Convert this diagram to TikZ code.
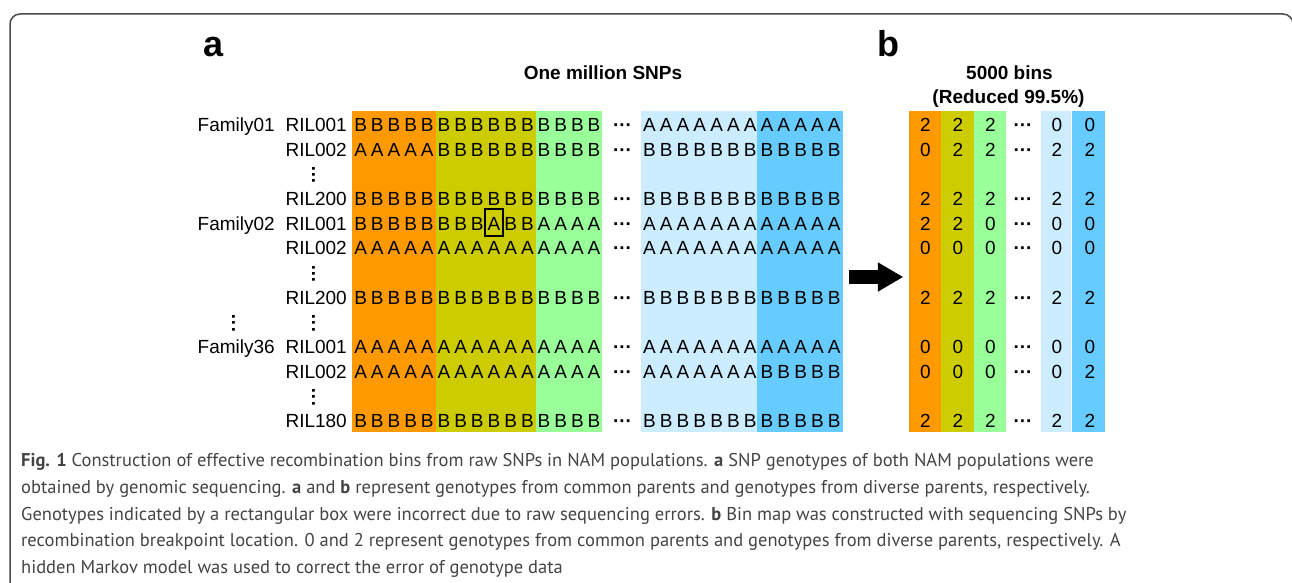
\documentclass[tikz,border=0pt]{standalone}
\usepackage{fontspec}
\usepackage{xcolor}
\setmainfont{Liberation Sans}
\newfontfamily\capfont{PT Sans}
\usepackage{tikz}
\usetikzlibrary{positioning,arrows.meta}

\definecolor{binorange}{HTML}{FF9900}
\definecolor{binolive}{HTML}{CCCC00}
\definecolor{bingreen}{HTML}{99FF99}
\definecolor{binlight}{HTML}{CCECFF}
\definecolor{binblue}{HTML}{66CCFF}
\definecolor{capgray}{HTML}{444444}
\definecolor{framegray}{HTML}{4A4A4A}

\begin{document}
\begin{tikzpicture}[x=1pt,y=-1pt]

\tikzset{snp/.style={anchor=base, inner sep=0pt, font=\fontsize{19}{21}\selectfont},
rowlabel/.style={anchor=base east, inner sep=0pt, font=\fontsize{19}{21}\selectfont},
vdot/.style={rotate=90, inner sep=0pt, font=\fontsize{19}{21}\bfseries\selectfont},
bincol/.style={fill=#1, draw=none, inner sep=0pt, minimum height=321pt},
panel/.style={anchor=base, inner sep=0pt, font=\fontsize{36}{40}\bfseries\selectfont},
headline/.style={anchor=base, inner sep=0pt, font=\fontsize{19}{22}\bfseries\selectfont},
capline/.style={anchor=base west, inner sep=0pt, text=capgray, font=\capfont\fontsize{18.5}{26}\selectfont},
bigarrow/.style={line width=14pt, -{Triangle[length=25.5pt,width=27.5pt]}}}

\useasboundingbox (0,0) rectangle (1292,583);

\begin{scope}
\clip (0,0) rectangle (1292,583);
\draw[framegray, line width=1.5pt, rounded corners=10pt] (10,14) rectangle (1293,640);
\end{scope}

%colour blocks, panel a then panel b
\foreach \name/\cx/\w/\col in {orangeA/394.15/83.7/binorange, oliveA/486/100/binolive, greenA/569.15/66.3/bingreen, lightA/698.85/115.7/binlight, blueA/799.7/86/binblue, orangeB/925/32/binorange, oliveB/957.35/32.7/binolive, greenB/989.7/32/bingreen, lightB/1056/30/binlight, blueB/1088.65/32.7/binblue}
    \node[bincol=\col, minimum width=\w] (\name) at (\cx,271.5) {};

\node[panel] (labA) at (214,57) {a};
\node[panel] (labB) at (888.5,57) {b};
\node[headline] (snpTitle) at (603,80) {One million SNPs};
\node[headline] (binTitle) at (1009.5,80) {5000 bins};
\node[headline] (binSub) at (1008.5,103) {(Reduced 99.5\%)};

%genotypes of each RIL and its bins
\foreach \y/\snps/\bins [count=\r] in {131.4/{B,B,B,B,B,B,B,B,B,B,B,B,B,B,B,A,A,A,A,A,A,A,A,A,A,A,A}/{2,2,2,0,0},
156.1/{A,A,A,A,A,B,B,B,B,B,B,B,B,B,B,B,B,B,B,B,B,B,B,B,B,B,B}/{0,2,2,2,2},
205.5/{B,B,B,B,B,B,B,B,B,B,B,B,B,B,B,B,B,B,B,B,B,B,B,B,B,B,B}/{2,2,2,2,2},
230.2/{B,B,B,B,B,B,B,B,A,B,B,A,A,A,A,A,A,A,A,A,A,A,A,A,A,A,A}/{2,2,0,0,0},
254.9/{A,A,A,A,A,A,A,A,A,A,A,A,A,A,A,A,A,A,A,A,A,A,A,A,A,A,A}/{0,0,0,0,0},
304.3/{B,B,B,B,B,B,B,B,B,B,B,B,B,B,B,B,B,B,B,B,B,B,B,B,B,B,B}/{2,2,2,2,2},
353.7/{A,A,A,A,A,A,A,A,A,A,A,A,A,A,A,A,A,A,A,A,A,A,A,A,A,A,A}/{0,0,0,0,0},
378.4/{A,A,A,A,A,A,A,A,A,A,A,A,A,A,A,A,A,A,A,A,A,A,B,B,B,B,B}/{0,0,0,0,2},
427.8/{B,B,B,B,B,B,B,B,B,B,B,B,B,B,B,B,B,B,B,B,B,B,B,B,B,B,B}/{2,2,2,2,2}}
{
    \foreach \c [count=\k] in \snps {
        \pgfmathsetmacro\sx{\k<16 ? 352.3+16.67*(\k-0.5) : 641+16.8*(\k-15.5)}
        \node[snp] (snp-\r-\k) at (\sx,\y) {\c};
    }
    \node[snp] (dotsA-\r) at (622.5,\y) {\textbf{···}};
    \foreach \v [count=\j] in \bins {
        \pgfmathsetmacro\bx{{925.3,957.8,990.5,1057,1090}[\j-1]}
        \node[snp] (bin-\r-\j) at (\bx,\y) {\v};
    }
    \node[snp] (dotsB-\r) at (1023,\y) {\textbf{···}};
}

\foreach \y/\ril [count=\r] in {131.4/RIL001, 156.1/RIL002, 205.5/RIL200, 230.2/RIL001, 254.9/RIL002, 304.3/RIL200, 353.7/RIL001, 378.4/RIL002, 427.8/RIL180}
    \node[rowlabel] (ril-\r) at (347,\y) {\ril};

\foreach \y/\fam [count=\r] in {131.4/Family01, 230.2/Family02, 353.7/Family36}
    \node[rowlabel] (fam-\r) at (275,\y) {\fam};

\foreach \x/\y [count=\r] in {316/174.4, 316/273.2, 316/322.6, 316/396.7, 236/322.6}
    \node[vdot] (vdots-\r) at (\x,\y) {···};

%the wrong call
\node[draw, line width=2pt, inner sep=0pt, minimum width=18.3, minimum height=26.7] (errbox) at (494.2,222.65) {};

\draw[bigarrow, shorten <=6.3pt, shorten >=5.5pt] ([yshift=-5.5pt]blueA.east) -- ([yshift=-5.5pt]orangeB.west);

\foreach \t [count=\i] in {{\textbf{Fig. 1} Construction of effective recombination bins from raw SNPs in NAM populations. \textbf{a} SNP genotypes of both NAM populations were},
{obtained by genomic sequencing. \textbf{a} and \textbf{b} represent genotypes from common parents and genotypes from diverse parents, respectively.},
{Genotypes indicated by a rectangular box were incorrect due to raw sequencing errors. \textbf{b} Bin map was constructed with sequencing SNPs by},
{recombination breakpoint location. 0 and 2 represent genotypes from common parents and genotypes from diverse parents, respectively. A},
{hidden Markov model was used to correct the error of genotype data}}
    \node[capline] (cap-\i) at (21,{466.7+26.7*(\i-1)}) {\t};

\end{tikzpicture}
\end{document}
